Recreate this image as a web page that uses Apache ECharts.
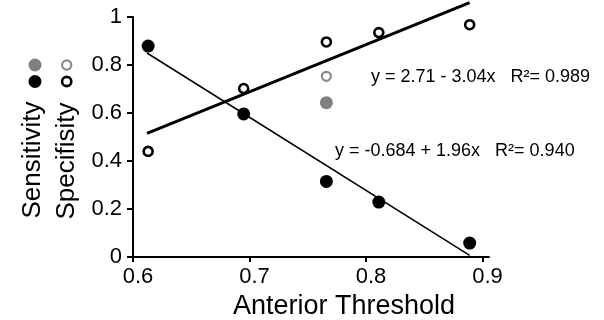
<!DOCTYPE html>
<html>
<head>
<meta charset="utf-8">
<script src="https://cdn.jsdelivr.net/npm/echarts@6/dist/echarts.min.js"></script>
<style>
  html, body { margin: 0; padding: 0; background: #fff; }
  #chart { width: 604px; height: 320px; }
</style>
</head>
<body>
<div id="chart"></div>
<script>
// values
var thresholds = [0.613, 0.695, 0.766, 0.811, 0.889];
var sensitivity = [0.879, 0.596, 0.315, 0.229, 0.058];
var specificity = [0.440, 0.702, 0.896, 0.935, 0.968];
// grey points at the same threshold
var greyX = 0.766;
var greySens = 0.643;
var greySpec = 0.753;
// regression line end points
var fitX = [0.612, 0.889];
var sensFit = [0.850, 0.007];
var specFit = [0.515, 1.060];
var xTicks = [0.6, 0.7, 0.8, 0.9];
var yTicks = [0, 0.2, 0.4, 0.6, 0.8, 1];
var sensText = 'y = 2.71 - 3.04x   R\u00b2= 0.989';
var specText = 'y = -0.684 + 1.96x   R\u00b2= 0.940';

var font = '"Liberation Sans", Arial, Helvetica, sans-serif';

function pairs(xs, ys) {
  var out = [];
  for (var i = 0; i < xs.length; i++) out.push([xs[i], ys[i]]);
  return out;
}

var chart = echarts.init(document.getElementById('chart'));

var option = {
  animation: false,
  grid: { left: 133, top: 17, right: 115, bottom: 63, outerBoundsMode: 'none', containLabel: false },
  textStyle: { fontFamily: font, color: '#000' },
  xAxis: {
    type: 'value',
    min: 0.6,
    max: 0.9056,
    interval: 0.1,
    splitLine: { show: false },
    axisLine: { lineStyle: { color: '#000', width: 2 } },
    axisTick: { length: 5, lineStyle: { color: '#000', width: 2 }, customValues: xTicks },
    axisLabel: { color: '#000', fontSize: 22, fontFamily: font, margin: 9, padding: [0, 0, 0, 10], customValues: xTicks },
    name: 'Anterior Threshold',
    nameLocation: 'middle',
    nameGap: 36,
    nameMoveOverlap: false,
    nameTextStyle: { color: '#000', fontSize: 27, fontFamily: font, padding: [0, 0, 0, 66] }
  },
  yAxis: {
    type: 'value',
    min: 0,
    max: 1,
    interval: 0.2,
    splitLine: { show: false },
    axisLine: { show: true, lineStyle: { color: '#000', width: 2 } },
    axisTick: { show: true, length: 6, lineStyle: { color: '#000', width: 2 }, customValues: yTicks },
    axisLabel: { color: '#000', fontSize: 22, fontFamily: font, margin: 11, customValues: yTicks }
  },
  graphic: [
    { type: 'text', x: 33, y: 160, rotation: Math.PI / 2,
      style: { text: 'Sensitivity', fontSize: 26, fontFamily: font, fill: '#000', align: 'center', verticalAlign: 'middle' } },
    { type: 'text', x: 67, y: 161, rotation: Math.PI / 2,
      style: { text: 'Specifisity', fontSize: 26, fontFamily: font, fill: '#000', align: 'center', verticalAlign: 'middle' } },
    { type: 'circle', shape: { cx: 35, cy: 65, r: 6.5 }, style: { fill: '#808080' } },
    { type: 'circle', shape: { cx: 35, cy: 81.5, r: 6.5 }, style: { fill: '#000' } },
    { type: 'circle', shape: { cx: 66.7, cy: 65, r: 4.6 }, style: { fill: '#fff', stroke: '#8a8a8a', lineWidth: 2.2 } },
    { type: 'circle', shape: { cx: 66.7, cy: 81.5, r: 4.6 }, style: { fill: '#fff', stroke: '#000', lineWidth: 2.6 } },
    { type: 'text', x: 371, y: 77,
      style: { text: sensText, fontSize: 18, fontFamily: font, fill: '#000', align: 'left', verticalAlign: 'middle' } },
    { type: 'text', x: 335, y: 151,
      style: { text: specText, fontSize: 18, fontFamily: font, fill: '#000', align: 'left', verticalAlign: 'middle' } }
  ],
  series: [
    {
      name: 'sensFit', type: 'line', data: pairs(fitX, sensFit),
      symbol: 'none', clip: false, silent: true,
      lineStyle: { color: '#000', width: 1.5 }, z: 2
    },
    {
      name: 'specFit', type: 'line', data: pairs(fitX, specFit),
      symbol: 'none', clip: false, silent: true,
      lineStyle: { color: '#000', width: 3 }, z: 2
    },
    {
      name: 'Sensitivity', type: 'scatter', data: pairs(thresholds, sensitivity),
      symbol: 'circle', symbolSize: 13,
      itemStyle: { color: '#000', opacity: 1 }, z: 3
    },
    {
      name: 'Specificity', type: 'scatter', data: pairs(thresholds, specificity),
      symbol: 'circle', symbolSize: 9,
      itemStyle: { color: '#fff', borderColor: '#000', borderWidth: 2.6, opacity: 1 }, z: 3
    },
    {
      name: 'Sensitivity grey', type: 'scatter', data: [[greyX, greySens]],
      symbol: 'circle', symbolSize: 13,
      itemStyle: { color: '#808080', opacity: 1 }, z: 3
    },
    {
      name: 'Specificity grey', type: 'scatter', data: [[greyX, greySpec]],
      symbol: 'circle', symbolSize: 9,
      itemStyle: { color: '#fff', borderColor: '#8a8a8a', borderWidth: 2.2, opacity: 1 }, z: 3
    }
  ]
};

chart.setOption(option);
</script>
</body>
</html>
